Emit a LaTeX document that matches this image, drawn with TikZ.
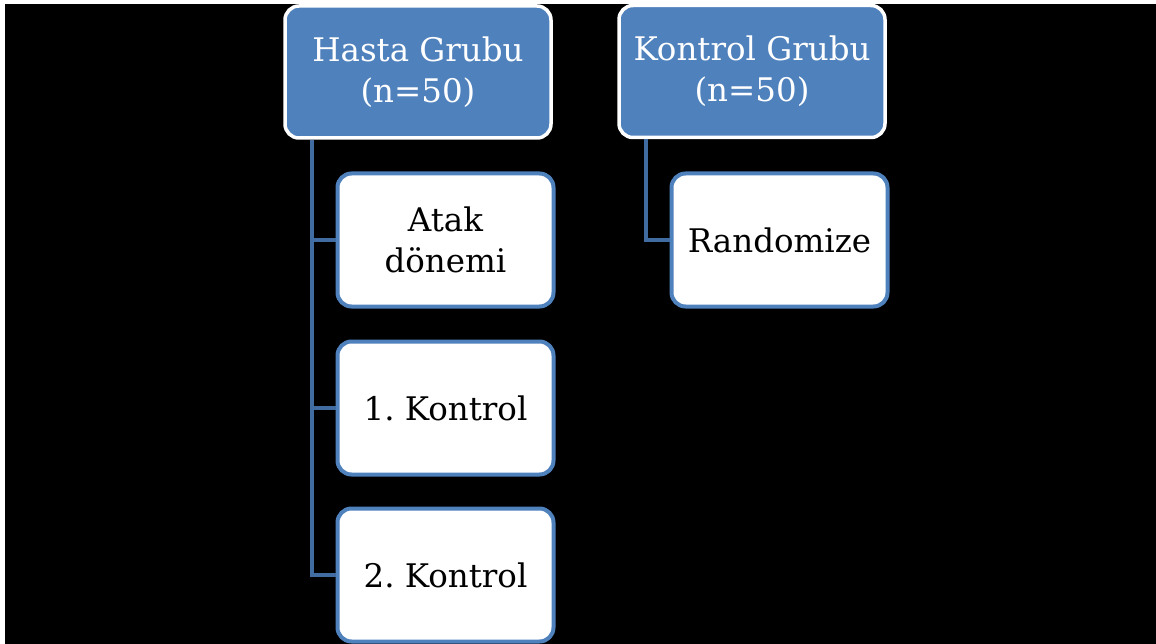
\documentclass[tikz,border=0pt]{standalone}
\usepackage{fontspec}
\setmainfont{DejaVu Serif}
\frenchspacing
\definecolor{hdrblue}{RGB}{79,129,189}
\definecolor{edgeblue}{RGB}{79,129,189}
\definecolor{linkblue}{RGB}{65,108,162}
\tikzset{
  hdrbox/.style={draw=white, line width=3.5pt, fill=hdrblue, rounded corners=14pt,
    minimum width=266pt, minimum height=132pt, align=center, text=white,
    font=\fontsize{32.5}{41}\selectfont, inner sep=0pt},
  childbox/.style={draw=edgeblue, line width=4pt, fill=white, rounded corners=14pt,
    minimum width=216pt, minimum height=133pt, align=center, text=black,
    font=\fontsize{32.5}{41}\selectfont, inner sep=0pt},
  link/.style={draw=linkblue, line width=4.5pt}
}
\begin{document}
\begin{tikzpicture}[x=1pt,y=-1pt]
\useasboundingbox (0,0) rectangle (1156,644);
\fill[white] (0,0) rectangle (1156,644);
\fill[black] (5,4) rectangle (1156,644);
\node[hdrbox] (hasta) at (418,72) {Hasta Grubu\\(n=50)};
\node[hdrbox] (kontrol) at (752,71.5) {Kontrol Grubu\\(n=50)};
\node[childbox] (atak) at (445.5,240) {Atak\\dönemi};
\node[childbox] (k1) at (445.5,408) {1. Kontrol};
\node[childbox] (k2) at (445.5,575) {2. Kontrol};
\node[childbox] (rand) at (779.5,240) {Randomize};
\coordinate (trunkL) at (312,0);
\coordinate (trunkR) at (646,0);
\draw[link] (hasta.south -| trunkL) |- (atak.west);
\draw[link] (hasta.south -| trunkL) |- (k1.west);
\draw[link] (hasta.south -| trunkL) |- (k2.west);
\draw[link] (kontrol.south -| trunkR) |- (rand.west);
\end{tikzpicture}
\end{document}
